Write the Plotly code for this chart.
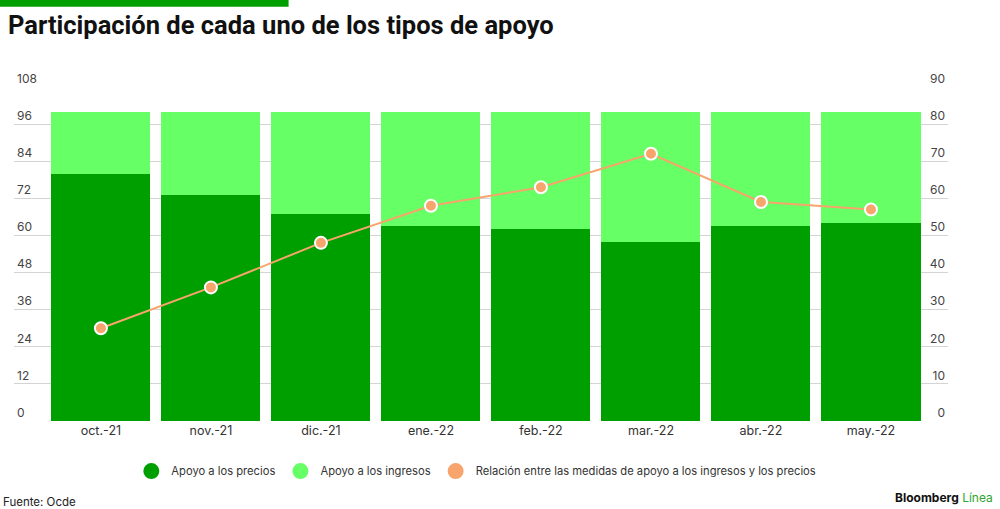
import plotly.graph_objects as go

# datos (Fuente: Ocde)
meses = ["oct.-21", "nov.-21", "dic.-21", "ene.-22", "feb.-22", "mar.-22", "abr.-22", "may.-22"]
apoyo_precios = [80, 73, 67, 63, 62, 58, 63, 64]
apoyo_ingresos = [20, 27, 33, 37, 38, 42, 37, 36]
relacion = [25, 36, 48, 58, 63, 72, 59, 57]

ticks_izq = [0, 12, 24, 36, 48, 60, 72, 84, 96, 108]
ticks_der = [0, 10, 20, 30, 40, 50, 60, 70, 80, 90]

VERDE = "#009f00"
VERDE_CLARO = "#66ff66"
NARANJA = "#f7a56c"
FUENTE = "Inter"

fig = go.Figure()

fig.add_trace(go.Bar(x=meses, y=apoyo_precios, marker=dict(color=VERDE, line_width=0),
                     showlegend=False, hoverinfo="y"))
fig.add_trace(go.Bar(x=meses, y=apoyo_ingresos, marker=dict(color=VERDE_CLARO, line_width=0),
                     showlegend=False, hoverinfo="y"))
fig.add_trace(go.Scatter(x=meses, y=relacion, yaxis="y2", mode="lines+markers",
                         line=dict(color=NARANJA, width=2),
                         marker=dict(color=NARANJA, size=12, line=dict(color="white", width=2)),
                         showlegend=False))

# entradas de leyenda con circulos
nombres = ["Apoyo a los precios", "Apoyo a los ingresos",
           "Relación entre las medidas de apoyo a los ingresos y los precios"]
for nombre, color in zip(nombres, [VERDE, VERDE_CLARO, NARANJA]):
    fig.add_trace(go.Scatter(x=[None], y=[None], mode="markers", name=nombre,
                             marker=dict(color=color, size=16, symbol="circle")))

fig.update_layout(
    width=1000, height=509,
    margin=dict(l=14, r=52, t=87, b=88, autoexpand=False),
    paper_bgcolor="white", plot_bgcolor="white",
    barmode="stack", bargap=0.1,
    font=dict(family=FUENTE, size=12, color="#333333"),
    xaxis=dict(range=[-0.79, 7.7], showgrid=False, zeroline=False, showline=False,
               ticks="", tickfont=dict(size=12.5, color="#333333"), automargin=False),
    yaxis=dict(range=[0, 108], tickvals=ticks_izq, showgrid=True, gridcolor="#d4d4d4",
               gridwidth=1, zeroline=False, ticklabelposition="inside top",
               ticklabeloverflow="allow", automargin=False,
               tickfont=dict(size=12, color="#444444")),
    yaxis2=dict(range=[0, 90], tickvals=ticks_der, overlaying="y", side="right",
                showgrid=False, zeroline=False, ticklabelposition="inside top",
                ticklabeloverflow="allow", automargin=False,
                tickfont=dict(size=12, color="#444444")),
    legend=dict(orientation="h", x=0.495, xanchor="center", y=-0.15, yanchor="middle",
                font=dict(size=11.2, color="#333333"), itemsizing="trace",
                traceorder="normal"),
    title=dict(text="<b>Participación de cada uno de los tipos de apoyo</b>",
               x=0.008, xanchor="left", y=0.95, yanchor="middle",
               font=dict(family="Roboto", size=25.5, color="#111111")),
)

fig.add_shape(type="rect", xref="paper", yref="paper", x0=-0.015, x1=0.294,
              y0=1.24, y1=1.262, fillcolor=VERDE, line_width=0)

fig.add_annotation(text="Fuente: Ocde", xref="paper", yref="paper", x=-0.014, y=-0.243,
                   xanchor="left", yanchor="middle", showarrow=False,
                   font=dict(size=11.5, color="#222222"))
fig.add_annotation(text="<b>Bloomberg</b> <span style='color:#2fa52f'>Línea</span>",
                   xref="paper", yref="paper", x=1.05, y=-0.228,
                   xanchor="right", yanchor="middle", showarrow=False,
                   font=dict(size=12, color="#111111"))

# la pagina trae margen por defecto en body, lo quitamos
fig.write_html("out.html", config={"displayModeBar": False},
               post_script="document.body.style.margin='0';")
